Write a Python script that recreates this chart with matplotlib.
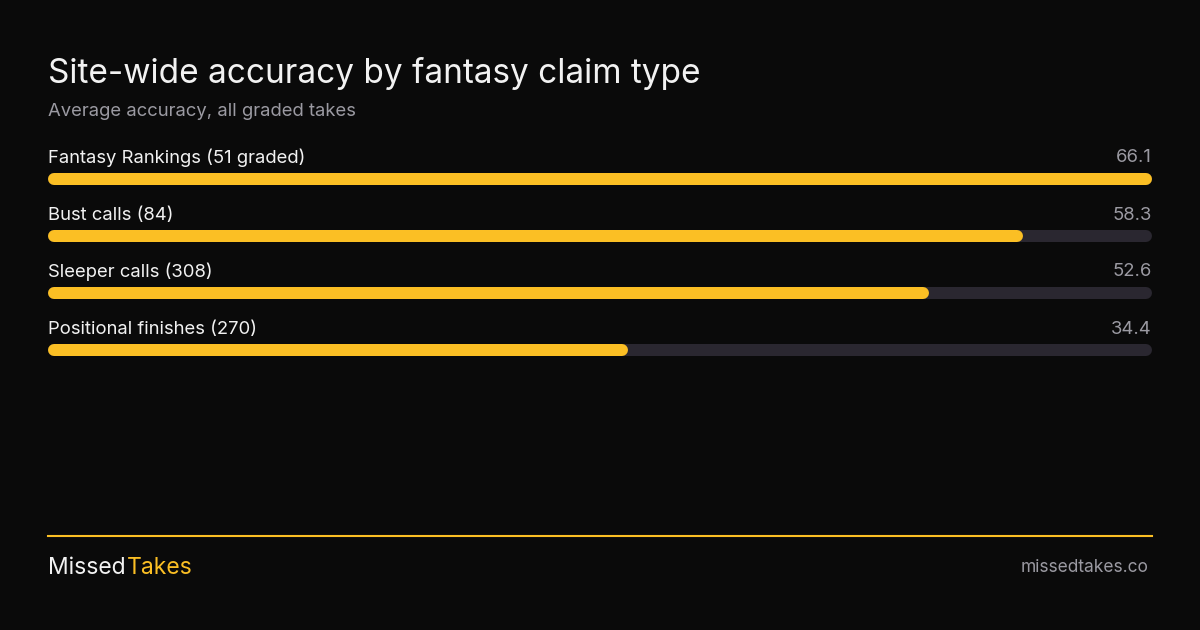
import matplotlib.pyplot as plt

plt.rcParams['font.family'] = ['Inter', 'DejaVu Sans']

categories = ["Fantasy Rankings (51 graded)", "Bust calls (84)",
              "Sleeper calls (308)", "Positional finishes (270)"]
accuracy = [66.1, 58.3, 52.6, 34.4]
scale_max = 66.1

BG = "#0a0a0a"
YELLOW = "#fbbf24"
TRACK = "#2a2730"
WHITE = "#f2f2f2"
GREY = "#9b9aa2"

W, H = 1200, 630
fig = plt.figure(figsize=(12, 6.3), dpi=100, facecolor=BG)


def fx(px):
    return px / W


def fy(py):
    return 1 - py / H


fig.text(fx(48), fy(73), "Site-wide accuracy by fantasy claim type",
         color=WHITE, fontsize=24, va='center', ha='left')
fig.text(fx(48), fy(111), "Average accuracy, all graded takes",
         color=GREY, fontsize=13.3, va='center', ha='left')

# bars: axes inset by the round cap radius (6 px) on each side
cap = 6
row_h = 57
top = 179 - row_h / 2
ax = fig.add_axes([fx(48 + cap), fy(top + row_h * len(categories)),
                   fx(1104 - 2 * cap), row_h * len(categories) / H])
ax.set_xlim(0, scale_max)
ax.set_ylim(len(categories) - 0.5, -0.5)
ax.axis('off')
lw = 12 * 72 / 100

for i, (cat, val) in enumerate(zip(categories, accuracy)):
    ax.plot([0, scale_max], [i, i], color=TRACK, lw=lw,
            solid_capstyle='round', clip_on=False)
    ax.plot([0, val], [i, i], color=YELLOW, lw=lw,
            solid_capstyle='round', clip_on=False)
    ax.annotate(cat, (0, i), xytext=(-cap, 21), textcoords='offset pixels',
                color=WHITE, fontsize=13.3, ha='left', va='center')
    ax.annotate(f"{val:.1f}", (scale_max, i), xytext=(cap, 21),
                textcoords='offset pixels', color=GREY, fontsize=13.3,
                ha='right', va='center')

# footer
fig.add_artist(plt.Line2D([fx(48), fx(1152)], [fy(536), fy(536)],
                          color=YELLOW, lw=1.5))
t = fig.text(fx(48), fy(568), "Missed", color=WHITE, fontsize=16.5,
             va='center', ha='left')
fig.canvas.draw()
bb = t.get_window_extent()
fig.text(bb.x1 / W + fx(1), fy(568), "Takes", color=YELLOW, fontsize=16.5,
         va='center', ha='left')
fig.text(fx(1148), fy(568), "missedtakes.co", color=GREY, fontsize=12.5,
         va='center', ha='right')

fig.savefig("out.png", facecolor=BG)
